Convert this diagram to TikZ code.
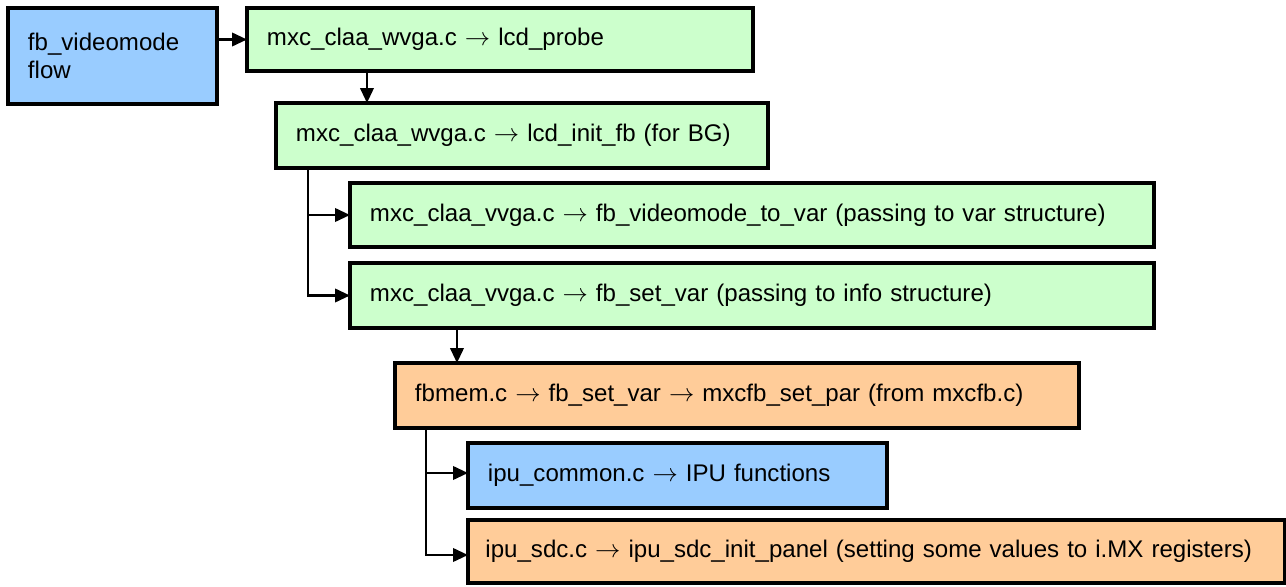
\documentclass[tikz,border=0pt]{standalone}
\usepackage{fontspec}
\setmainfont{Liberation Sans}
\usepackage{tikz}
\usetikzlibrary{arrows.meta,positioning,calc}

\definecolor{boxblue}{RGB}{153,204,255}
\definecolor{boxgreen}{RGB}{204,255,204}
\definecolor{boxorange}{RGB}{255,204,153}

\newcommand\fnarrow{$\rightarrow$}

\tikzset{
  fnbox/.style={draw=black, line width=2.2pt, rectangle, anchor=north west,
    inner xsep=0.4cm, inner ysep=0pt, outer sep=0pt, align=left,
    font=\fontsize{13.7}{16}\selectfont},
  link/.style={line width=1.3pt, ->}
}

\begin{document}
\begin{tikzpicture}[%
>={Triangle[length=0.3cm,width=0.27cm]},
x=0.02cm,
y=-0.02cm
]
\useasboundingbox (0,0) rectangle (1286,586);

\node[fnbox, fill=boxblue, text width=3.38cm, minimum height=1.92cm] (flow) at (8,8) {fb\_videomode\\flow};
\node[fnbox, fill=boxgreen, text width=9.32cm, minimum height=1.26cm] (probe) at (247,8) {mxc\_claa\_wvga.c \fnarrow{} lcd\_probe};
\node[fnbox, fill=boxgreen, text width=9.04cm, minimum height=1.3cm] (initfb) at (276,103) {mxc\_claa\_wvga.c \fnarrow{} lcd\_init\_fb (for BG)};
\node[fnbox, fill=boxgreen, text width=15.28cm, minimum height=1.28cm] (tovar) at (350,183) {mxc\_claa\_vvga.c \fnarrow{} fb\_videomode\_to\_var (passing to var structure)};
\node[fnbox, fill=boxgreen, text width=15.28cm, minimum height=1.3cm] (setvar) at (350,263) {mxc\_claa\_vvga.c \fnarrow{} fb\_set\_var (passing to info structure)};
\node[fnbox, fill=boxorange, text width=12.88cm, minimum height=1.3cm] (fbmem) at (395,363) {fbmem.c \fnarrow{} fb\_set\_var \fnarrow{} mxcfb\_set\_par (from mxcfb.c)};
\node[fnbox, fill=boxblue, text width=7.58cm, minimum height=1.3cm] (ipucommon) at (468,443) {ipu\_common.c \fnarrow{} IPU functions};
\node[fnbox, fill=boxorange, inner xsep=0.35cm, text width=15.64cm, minimum height=1.26cm] (ipusdc) at (468,520) {ipu\_sdc.c \fnarrow{} ipu\_sdc\_init\_panel (setting some values to i.MX registers)};

% top row
\draw[link] (flow.east |- probe.west) -- (probe.west);
\draw[link] ([xshift=2.4cm] probe.south west) -- ([xshift=2.4cm] probe.south west |- initfb.north);

% lcd_init_fb branches
\draw[link] ([xshift=0.64cm] initfb.south west) |- (tovar.west);
\draw[link] ([xshift=0.64cm] initfb.south west) |- (setvar.west);
\draw[link] ([xshift=2.14cm] setvar.south west) -- ([xshift=2.14cm] setvar.south west |- fbmem.north);

% fbmem branches
\draw[link] ([xshift=0.62cm] fbmem.south west) |- ([yshift=0.05cm] ipucommon.west);
\draw[link] ([xshift=0.62cm] fbmem.south west) |- ([yshift=-0.07cm] ipusdc.west);

\end{tikzpicture}
\end{document}
